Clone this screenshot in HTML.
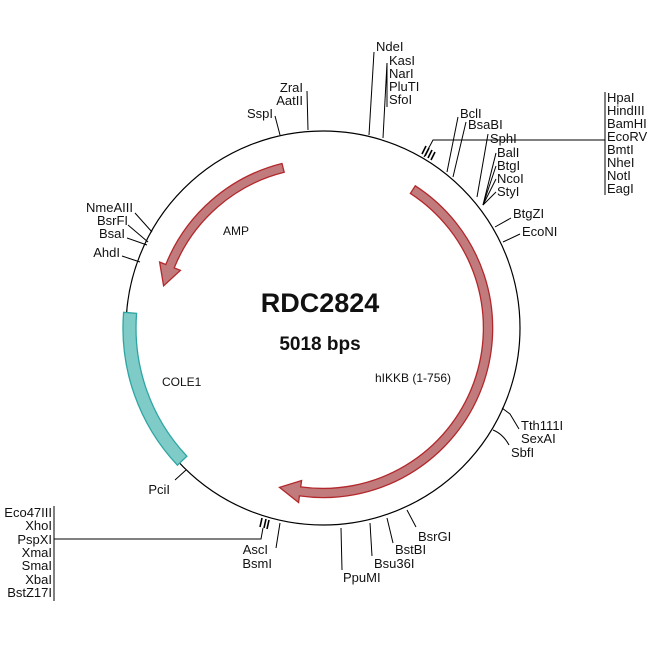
<!DOCTYPE html>
<html><head><meta charset="utf-8"><style>
html,body{margin:0;padding:0;background:#fff;}
svg{display:block;}
text{font-family:"Liberation Sans",Arial,sans-serif;font-size:13px;fill:#111;}
.r{text-anchor:end;}
</style></head><body>
<svg width="650" height="650" viewBox="0 0 650 650" xmlns="http://www.w3.org/2000/svg">
<circle cx="323" cy="328" r="197" fill="none" stroke="#000" stroke-width="1.2"/>
<path d="M415.3,185.8 A169.5 169.5 0 0 1 299.4,495.9 L298.6,502.5 L279.5,487.4 L301.6,480.5 L300.7,486.9 A160.5 160.5 0 0 0 410.4,193.4 Z" fill="#c27b7c" stroke="#b2282c" stroke-width="1.3"/>
<path d="M282.0,163.5 A169.5 169.5 0 0 0 165.8,264.5 L159.6,262.0 L163.6,285.8 L180.4,270.3 L174.2,267.9 A160.5 160.5 0 0 1 284.2,172.3 Z" fill="#c27b7c" stroke="#b2282c" stroke-width="1.3"/>
<path d="M123.6,312.3 A200 200 0 0 0 177.4,465.2 L186.9,456.2 A187 187 0 0 1 136.6,313.3 Z" fill="#7ecbc7" stroke="#2fa5a3" stroke-width="1.3"/>
<text x="320" y="312" text-anchor="middle" style="font-size:27px;font-weight:bold">RDC2824</text>
<text x="320" y="350" text-anchor="middle" style="font-size:19px;font-weight:bold">5018 bps</text>
<text x="223" y="235" style="font-size:12px">AMP</text>
<text x="162" y="386" style="font-size:12px">COLE1</text>
<text x="375" y="382" style="font-size:12px">hIKKB (1-756)</text>
<g stroke="#000" stroke-width="1" fill="none">
<line x1="280" y1="135" x2="275" y2="116"/>
<line x1="308" y1="130" x2="307" y2="91"/>
<line x1="369" y1="135" x2="374" y2="52"/>
<line x1="383" y1="138" x2="387" y2="63"/><line x1="387" y1="63" x2="387" y2="107"/>
<line x1="447" y1="172" x2="458" y2="117"/>
<line x1="453" y1="177" x2="466" y2="122"/>
<line x1="477" y1="197" x2="488" y2="134"/>
<line x1="483" y1="205" x2="496" y2="153"/><line x1="483" y1="205" x2="496" y2="166"/><line x1="483" y1="205" x2="496" y2="179"/><line x1="483" y1="205" x2="496" y2="192"/>
<line x1="495" y1="227" x2="511" y2="218"/>
<line x1="503" y1="242" x2="520" y2="234"/>
<polyline points="424,157 433,140 605,140"/>
<line x1="605" y1="92" x2="605" y2="195"/>
<g stroke-width="1.6"><line x1="422" y1="154" x2="426" y2="146"/><line x1="425" y1="156" x2="429" y2="148"/><line x1="428" y1="158" x2="432" y2="150"/><line x1="431" y1="160" x2="435" y2="152"/></g>
<polyline points="502,408 510,414 519,429"/>
<path d="M493,430 Q503,434 509,445"/>
<line x1="407" y1="510" x2="416" y2="527"/>
<line x1="387" y1="518" x2="393" y2="543"/>
<line x1="370" y1="523" x2="372" y2="556"/>
<line x1="341" y1="528" x2="342" y2="570"/>
<line x1="280" y1="523" x2="276" y2="548"/>
<g stroke-width="1.6"><line x1="262" y1="518" x2="260" y2="527"/><line x1="266" y1="519" x2="264" y2="528"/><line x1="269" y1="520" x2="267" y2="529"/></g>
<polyline points="263,528 261,539 54,539"/>
<line x1="54" y1="506" x2="54" y2="601"/>
<line x1="186" y1="470" x2="175" y2="480"/>
<line x1="152" y1="232" x2="135" y2="213"/>
<line x1="148" y1="242" x2="128" y2="225"/>
<line x1="147" y1="245" x2="127" y2="238"/>
<line x1="140" y1="262" x2="122" y2="256"/>
</g>
<text class="r" x="273" y="118">SspI</text>
<text class="r" x="303" y="92">ZraI</text>
<text class="r" x="303" y="105">AatII</text>
<text x="376" y="51">NdeI</text>
<text x="389" y="65">KasI</text>
<text x="389" y="78">NarI</text>
<text x="389" y="91">PluTI</text>
<text x="389" y="104">SfoI</text>
<text x="460" y="118">BclI</text>
<text x="468" y="129">BsaBI</text>
<text x="490" y="143">SphI</text>
<text x="497" y="157">BalI</text>
<text x="497" y="170">BtgI</text>
<text x="497" y="183">NcoI</text>
<text x="497" y="196">StyI</text>
<text x="513" y="218">BtgZI</text>
<text x="522" y="236">EcoNI</text>
<text x="607" y="102">HpaI</text>
<text x="607" y="115">HindIII</text>
<text x="607" y="128">BamHI</text>
<text x="607" y="141">EcoRV</text>
<text x="607" y="154">BmtI</text>
<text x="607" y="167">NheI</text>
<text x="607" y="180">NotI</text>
<text x="607" y="193">EagI</text>
<text x="521" y="430">Tth111I</text>
<text x="521" y="443">SexAI</text>
<text x="511" y="457">SbfI</text>
<text x="418" y="541">BsrGI</text>
<text x="395" y="554">BstBI</text>
<text x="374" y="568">Bsu36I</text>
<text x="343" y="582">PpuMI</text>
<text class="r" x="268" y="554">AscI</text>
<text class="r" x="272" y="568">BsmI</text>
<text class="r" x="170" y="494">PciI</text>
<text class="r" x="52" y="517">Eco47III</text>
<text class="r" x="52" y="530">XhoI</text>
<text class="r" x="52" y="544">PspXI</text>
<text class="r" x="52" y="557">XmaI</text>
<text class="r" x="52" y="570">SmaI</text>
<text class="r" x="52" y="584">XbaI</text>
<text class="r" x="52" y="597">BstZ17I</text>
<text class="r" x="133" y="212">NmeAIII</text>
<text class="r" x="128" y="225">BsrFI</text>
<text class="r" x="125" y="238">BsaI</text>
<text class="r" x="120" y="257">AhdI</text>
</svg>
</body></html>
